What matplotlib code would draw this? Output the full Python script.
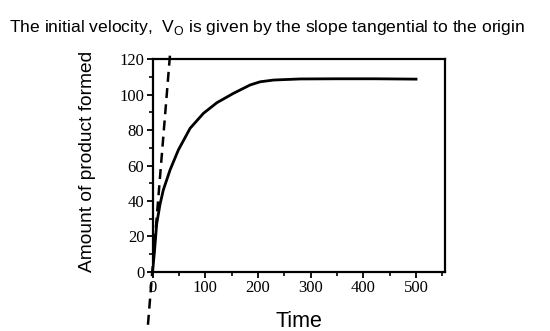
import matplotlib
matplotlib.use("Agg")
import matplotlib.pyplot as plt
from matplotlib.ticker import MultipleLocator

# values
time = [0, 3, 7.6, 13.9, 20.2, 33, 48.8, 71, 96.4, 122, 153.5, 185, 204,
        230, 280, 350, 420, 500]
product = [1, 10, 27, 38, 46.2, 57.5, 68.8, 81, 89.5, 95.5, 100.8, 105.5, 107.3,
           108.3, 108.9, 109, 109, 108.8]

# tangent at the origin (drawn past the axes)
tangent_x = [-9, 33]
tangent_y = [-30, 123]

x_ticks = [0, 100, 200, 300, 400, 500]
y_ticks = [0, 20, 40, 60, 80, 100, 120]

plt.rcParams["mathtext.fontset"] = "custom"
plt.rcParams["mathtext.rm"] = "Liberation Sans"

fig = plt.figure(figsize=(5.5, 3.31), dpi=100)
ax = fig.add_axes([0.2776, 0.1792, 0.5315, 0.6416])

ax.plot(time, product, color="black", linewidth=2.0, solid_joinstyle="round")
ax.plot(tangent_x, tangent_y, color="black", linewidth=1.8,
        linestyle=(0, (4, 2.5)), clip_on=False)

ax.set_xlim(0, 555)
ax.set_ylim(0, 120)
ax.set_xticks(x_ticks)
ax.set_yticks(y_ticks)
ax.xaxis.set_minor_locator(MultipleLocator(50))
ax.yaxis.set_minor_locator(MultipleLocator(10))
ax.tick_params(which="major", length=4, width=1.3, direction="out",
               labelsize=12, pad=2)
ax.tick_params(which="minor", length=3, width=1.2, direction="out")
for label in ax.get_xticklabels() + ax.get_yticklabels():
    label.set_fontfamily("Liberation Serif")
for spine in ax.spines.values():
    spine.set_linewidth(1.6)

ax.set_ylabel("Amount of product formed", family="Liberation Sans",
              fontsize=13.8)
ax.yaxis.set_label_coords(-0.195, 0.52)
ax.set_xlabel("Time", family="Liberation Sans", fontsize=15.5, labelpad=11)

fig.text(0.016, 0.917,
         "The initial velocity,  V$_\\mathrm{O}$ is given by the slope tangential to the origin",
         family="Liberation Sans", fontsize=12.6, va="center", ha="left")

fig.savefig("out.png", dpi=100)
